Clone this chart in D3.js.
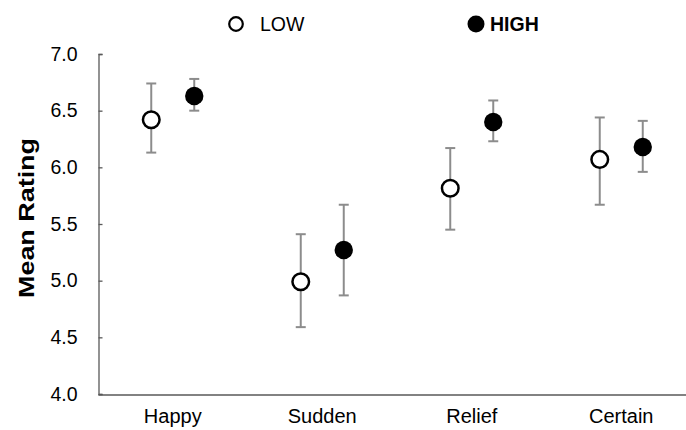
<!DOCTYPE html>
<html><head><meta charset="utf-8">
<script src="https://cdn.jsdelivr.net/npm/d3@7"></script>
<style>body{margin:0;background:#fff}svg{display:block}</style>
</head><body>
<svg id="c" width="686" height="430"></svg>
<script>
const categories = ["Happy", "Sudden", "Relief", "Certain"];
const seriesNames = ["LOW", "HIGH"];
const lowMean  = [6.42, 4.99, 5.815, 6.07];
const lowUpper = [6.74, 5.41, 6.17, 6.44];
const lowLower = [6.13, 4.59, 5.45, 5.67];
const highMean  = [6.63, 5.27, 6.40, 6.18];
const highUpper = [6.78, 5.67, 6.59, 6.41];
const highLower = [6.50, 4.87, 6.23, 5.96];
const yTicks = [4.0, 4.5, 5.0, 5.5, 6.0, 6.5, 7.0];

const svg = d3.select("#c");
const font = "'Liberation Sans', Arial, sans-serif";
const x = d3.scaleBand().domain(categories).range([98, 696]);
const xs = d3.scalePoint().domain(seriesNames).range([-21.5, 21.5]);
const y = d3.scaleLinear().domain([4, 7]).range([394, 54]);

// axes
const yAxis = svg.append("g").attr("transform", "translate(98.5,0)")
  .call(d3.axisLeft(y).tickValues(yTicks).tickSize(-4).tickSizeOuter(-4).tickPadding(21).tickFormat(d3.format(".1f")));
yAxis.selectAll("path,line").attr("stroke", "#595959").attr("stroke-width", 1.3);
yAxis.selectAll("text").attr("font-family", font).attr("font-size", 19.5).attr("fill", "#000");

const xAxis = svg.append("g").attr("transform", "translate(0,394.5)")
  .call(d3.axisBottom(x).tickSize(0).tickSizeOuter(0).tickPadding(14));
xAxis.select("path").attr("stroke", "#595959").attr("stroke-width", 1.5);
xAxis.selectAll("text").attr("font-family", font).attr("font-size", 20).attr("fill", "#000");

svg.append("text").attr("transform", "translate(34,218) rotate(-90)")
  .attr("text-anchor", "middle").attr("font-family", font).attr("font-weight", "bold")
  .attr("font-size", 22.5).attr("textLength", 160).attr("lengthAdjust", "spacingAndGlyphs")
  .attr("fill", "#000").text("Mean Rating");

const series = [
  {name: "LOW", mean: lowMean, up: lowUpper, lo: lowLower, fill: "#fff"},
  {name: "HIGH", mean: highMean, up: highUpper, lo: highLower, fill: "#000"}
];

series.forEach(s => {
  const g = svg.append("g");
  categories.forEach((c, i) => {
    const cx = x(c) + x.bandwidth() / 2 + xs(s.name);
    g.append("line").attr("x1", cx).attr("x2", cx).attr("y1", y(s.up[i])).attr("y2", y(s.lo[i]))
      .attr("stroke", "#8c8c8c").attr("stroke-width", 2);
    [s.up[i], s.lo[i]].forEach(v => {
      g.append("line").attr("x1", cx - 5).attr("x2", cx + 5).attr("y1", y(v)).attr("y2", y(v))
        .attr("stroke", "#8c8c8c").attr("stroke-width", 2);
    });
    g.append("circle").attr("cx", cx).attr("cy", y(s.mean[i])).attr("r", s.name === "LOW" ? 8.3 : 9.2)
      .attr("fill", s.fill).attr("stroke", "#000").attr("stroke-width", s.name === "LOW" ? 2.5 : 0);
  });
});

// legend
const legendX = d3.scalePoint().domain(seriesNames).range([236, 476]);
seriesNames.forEach((n, i) => {
  const lx = legendX(n);
  svg.append("circle").attr("cx", lx).attr("cy", 24).attr("r", i === 0 ? 6.8 : 8.5)
    .attr("fill", i === 0 ? "#fff" : "#000").attr("stroke", "#000").attr("stroke-width", i === 0 ? 2.2 : 0);
  svg.append("text").attr("x", lx + (i === 0 ? 24 : 14)).attr("y", 31).attr("font-family", font)
    .attr("font-size", 19.5).attr("font-weight", i === 0 ? "normal" : "bold").attr("fill", "#000").text(n);
});
</script>
</body></html>
